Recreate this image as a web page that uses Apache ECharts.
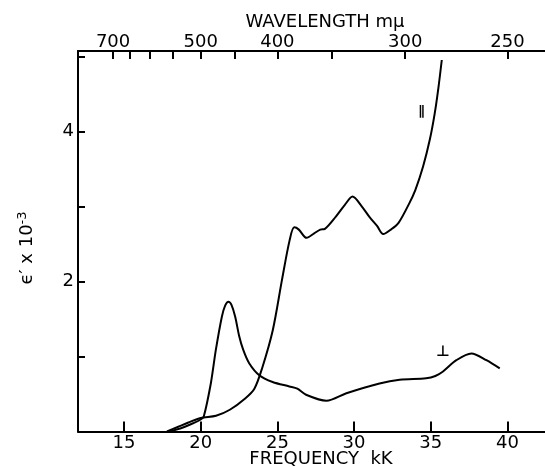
<!DOCTYPE html>
<html>
<head>
<meta charset="utf-8">
<script src="https://cdn.jsdelivr.net/npm/echarts@6/dist/echarts.min.js"></script>
<style>html,body{margin:0;padding:0;background:#fff}#c{width:545px;height:467px}</style>
</head>
<body>
<div id="c"></div>
<script>
// Frequency ticks (kK), wavelength ticks (mμ), y ticks
const freqTicks = [15, 20, 25, 30, 35, 40];
const wlTicks = [700, 650, 600, 550, 500, 450, 400, 350, 300, 250];
const wlLabels = [700, 500, 400, 300, 250];
const yTicks = [1, 2, 3, 4, 5];
const yLabels = [2, 4];

// Parallel polarization (∥)
const parFreq = [17.8, 18.5, 19.2, 20.0, 21.0, 21.9, 22.9, 23.5, 24.0, 24.7, 25.3, 25.8, 26.1, 26.4, 26.9, 27.4, 27.8, 28.1, 28.8, 29.4, 29.9, 30.5, 31.0, 31.5, 31.9, 32.4, 32.9, 33.6, 34.0, 34.5, 34.94, 35.26, 35.5, 35.72];
const parVal  = [0, 0.06, 0.12, 0.18, 0.21, 0.29, 0.44, 0.57, 0.84, 1.35, 2.02, 2.55, 2.72, 2.69, 2.58, 2.64, 2.69, 2.70, 2.86, 3.02, 3.13, 3.0, 2.86, 2.74, 2.63, 2.69, 2.78, 3.04, 3.22, 3.53, 3.89, 4.24, 4.58, 4.95];

// Perpendicular polarization (⊥)
const perpFreq = [18.0, 18.8, 19.5, 20.0, 20.2, 20.66, 20.99, 21.38, 21.6, 21.81, 22.0, 22.25, 22.5, 22.77, 23.16, 23.82, 24.69, 25.78, 26.3, 26.87, 28.2, 29.5, 31.66, 32.97, 34.7, 35.3, 35.8, 36.67, 37.65, 38.63, 39.5];
const perpVal  = [0, 0.05, 0.11, 0.16, 0.2, 0.64, 1.09, 1.53, 1.68, 1.73, 1.69, 1.53, 1.28, 1.09, 0.91, 0.75, 0.66, 0.60, 0.57, 0.49, 0.41, 0.51, 0.64, 0.69, 0.71, 0.74, 0.80, 0.95, 1.04, 0.95, 0.84];

const parLabel = [34.4, 4.26];
const perpLabel = [35.8, 1.06];

const FONT = 'DejaVu Sans';
const chart = echarts.init(document.getElementById('c'), null, {renderer: 'canvas'});
const zip = (a, b) => a.map((v, i) => [v, b[i]]);
const lineAxis = {show: true, lineStyle: {color: '#000', width: 2}};

chart.setOption({
  animation: false,
  backgroundColor: '#fff',
  grid: {left: 78, right: 0, top: 51, bottom: 35.5},
  xAxis: [
    {
      type: 'value', position: 'bottom', min: 12, max: 42.45,
      axisLine: Object.assign({onZero: false}, lineAxis),
      axisTick: {show: true, inside: true, length: 10, lineStyle: {color: '#000', width: 2}, customValues: freqTicks},
      axisLabel: {show: true, margin: 3, color: '#000', fontFamily: FONT, fontSize: 18, customValues: freqTicks},
      splitLine: {show: false}
    },
    {
      type: 'value', position: 'top', min: 12, max: 42.45,
      axisLine: Object.assign({onZero: false}, lineAxis),
      axisTick: {show: true, inside: true, length: 8, lineStyle: {color: '#000', width: 2}, customValues: wlTicks.map(l => 10000 / l)},
      axisLabel: {show: true, margin: 0, color: '#000', fontFamily: FONT, fontSize: 18,
        customValues: wlLabels.map(l => 10000 / l), formatter: v => String(Math.round(10000 / v))},
      splitLine: {show: false}
    }
  ],
  yAxis: {
    type: 'value', min: 0, max: 5.07,
    axisLine: Object.assign({onZero: false}, lineAxis),
    axisTick: {show: true, inside: true, length: 7, lineStyle: {color: '#000', width: 2}, customValues: yTicks},
    axisLabel: {show: true, margin: 4, color: '#000', fontFamily: FONT, fontSize: 18, customValues: yLabels},
    splitLine: {show: false}
  },
  graphic: [
    {type: 'text', x: 325, y: 13, style: {text: 'WAVELENGTH mμ', font: '18px "DejaVu Sans"', fill: '#000', align: 'center', verticalAlign: 'top'}},
    {type: 'text', x: 321, y: 450, style: {text: 'FREQUENCY  kK', font: '18px "DejaVu Sans"', fill: '#000', align: 'center', verticalAlign: 'top'}},
    {type: 'text', x: 27, y: 248, rotation: Math.PI / 2,
      style: {text: '{a|ϵ′ x 10}{s|-3}', fill: '#000', align: 'center', verticalAlign: 'middle',
        rich: {a: {font: '18px "DejaVu Sans"', fill: '#000'}, s: {font: '13px "DejaVu Sans"', fill: '#000', verticalAlign: 'top', padding: [0, 0, 8, 0]}}}}
  ],
  series: [
    {
      type: 'line', name: 'par', data: zip(parFreq, parVal), smooth: 0.3, symbol: 'none',
      lineStyle: {color: '#000', width: 2},
      markPoint: {symbol: 'circle', symbolSize: 0, data: [{coord: parLabel}],
        label: {show: true, position: 'inside', formatter: '∥', color: '#000', fontFamily: FONT, fontSize: 13, fontWeight: 'bold'}}
    },
    {
      type: 'line', name: 'perp', data: zip(perpFreq, perpVal), smooth: 0.3, symbol: 'none',
      lineStyle: {color: '#000', width: 2},
      markPoint: {symbol: 'circle', symbolSize: 0, data: [{coord: perpLabel}],
        label: {show: true, position: 'inside', formatter: '⊥', color: '#000', fontFamily: FONT, fontSize: 15, fontWeight: 'bold'}}
    }
  ]
});
</script>
</body>
</html>
